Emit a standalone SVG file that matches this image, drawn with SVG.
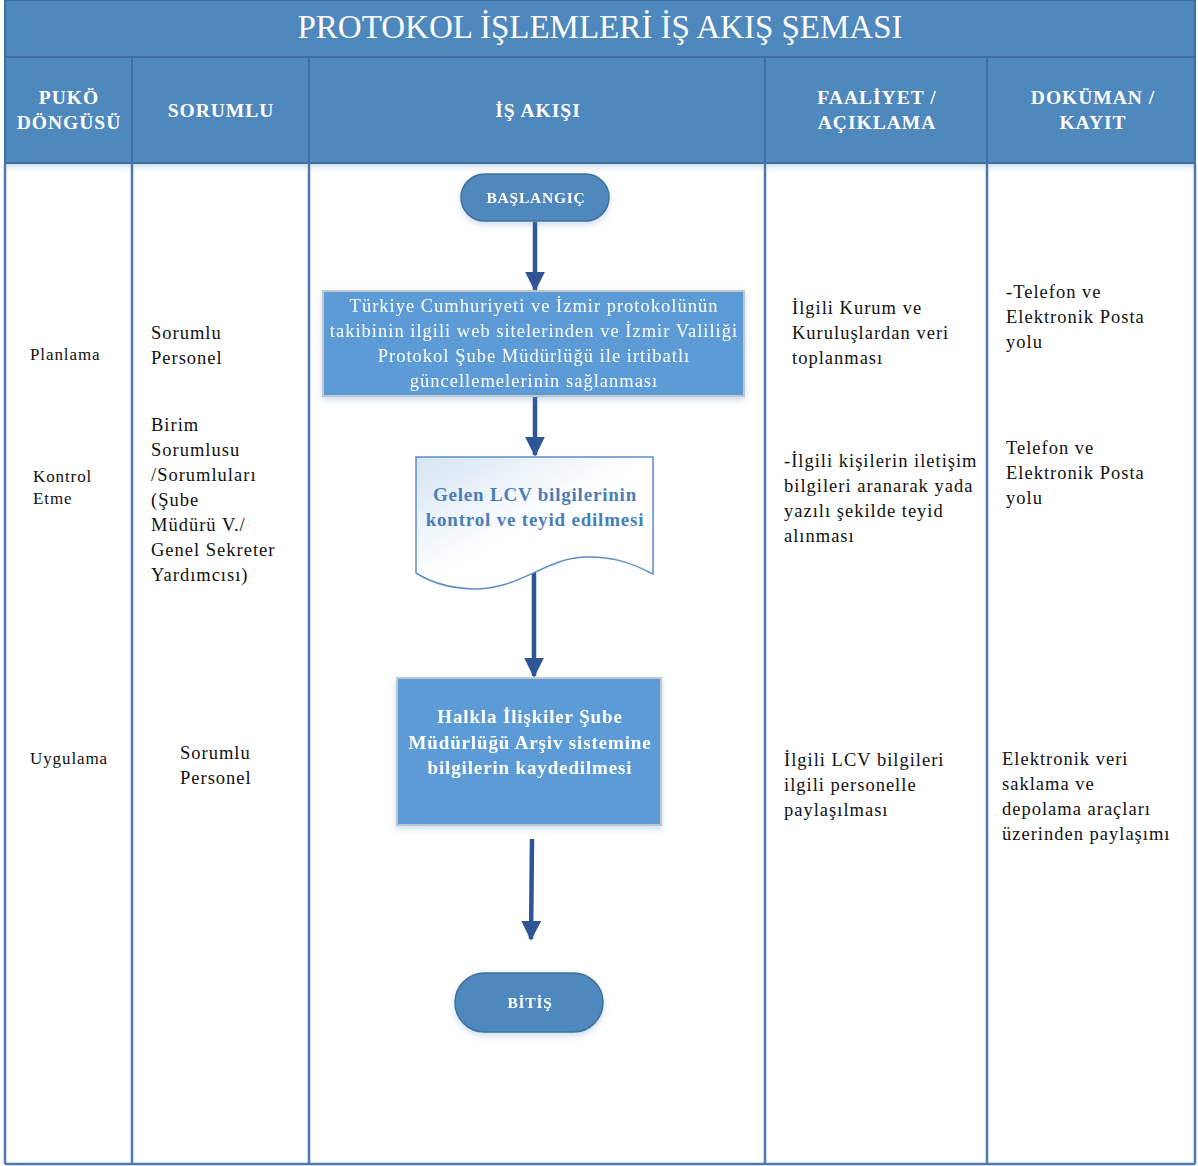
<svg xmlns="http://www.w3.org/2000/svg" width="1198" height="1166" viewBox="0 0 1198 1166">
<defs>
<style>
.hdr{fill:#4f88bc;stroke:#3f6f9f;stroke-width:2}
.col{stroke:#4a7ab0;stroke-width:2.5;fill:none}
.ht{font-family:"Liberation Serif","Times New Roman",serif;font-weight:bold;font-size:19.5px;letter-spacing:1px;fill:#fff;text-anchor:middle}
.tt{font-family:"Liberation Serif","Times New Roman",serif;font-size:33px;fill:#fff;text-anchor:middle}
.bt{font-family:"Liberation Serif","Times New Roman",serif;font-size:18.5px;letter-spacing:1px;fill:#111}
.st{font-family:"Liberation Serif","Times New Roman",serif;font-size:17px;letter-spacing:0.9px;fill:#111}
.term{fill:#4f88bc;stroke:#41719c;stroke-width:1.5}
.termt{font-family:"Liberation Serif","Times New Roman",serif;font-weight:bold;font-size:15.5px;letter-spacing:0.75px;fill:#fff;text-anchor:middle}
.proc{fill:#5b9bd5;stroke:#c0c6cc;stroke-width:2}
.pt{font-family:"Liberation Serif","Times New Roman",serif;font-size:18.5px;letter-spacing:1px;fill:#fff;text-anchor:middle}
.pbt{font-family:"Liberation Serif","Times New Roman",serif;font-weight:bold;font-size:19px;letter-spacing:0.85px;fill:#fff;text-anchor:middle}
.dt{font-family:"Liberation Serif","Times New Roman",serif;font-weight:bold;font-size:19px;letter-spacing:0.8px;fill:#4a7ebb;text-anchor:middle}
.conn{stroke:#2f5597;stroke-width:4.5;fill:none}
</style>
<linearGradient id="docg" x1="0" y1="0" x2="1" y2="1">
<stop offset="0" stop-color="#d6e4f3"/>
<stop offset="0.5" stop-color="#ffffff"/>
<stop offset="1" stop-color="#ffffff"/>
</linearGradient>
<linearGradient id="sh" x1="0" y1="0" x2="0" y2="1">
<stop offset="0" stop-color="#c9d9ea"/>
<stop offset="1" stop-color="#ffffff" stop-opacity="0"/>
</linearGradient>
<filter id="ds" x="-10%" y="-10%" width="120%" height="130%">
<feDropShadow dx="0" dy="3" stdDeviation="3" flood-color="#5b8fc7" flood-opacity="0.3"/>
</filter>
<marker id="ah" markerWidth="4.4" markerHeight="4.4" refX="4" refY="2.2" orient="auto" markerUnits="strokeWidth">
<path d="M0,0 L4.4,2.2 L0,4.4 z" fill="#2f5597"/>
</marker>
</defs>

<rect x="0" y="0" width="1198" height="1166" fill="#ffffff"/>

<g id="table">
<rect x="5" y="163" width="1190" height="12" fill="url(#sh)"/>
<rect class="hdr" x="5" y="0" width="1190" height="57"/>
<rect class="hdr" x="5" y="57" width="127" height="106"/>
<rect class="hdr" x="132" y="57" width="177" height="106"/>
<rect class="hdr" x="309" y="57" width="456" height="106"/>
<rect class="hdr" x="765" y="57" width="222" height="106"/>
<rect class="hdr" x="987" y="57" width="208" height="106"/>
<line class="col" x1="5" y1="163" x2="5" y2="1164"/>
<line class="col" x1="132" y1="163" x2="132" y2="1164"/>
<line class="col" x1="309" y1="163" x2="309" y2="1164"/>
<line class="col" x1="765" y1="163" x2="765" y2="1164"/>
<line class="col" x1="987" y1="163" x2="987" y2="1164"/>
<line class="col" x1="1195" y1="163" x2="1195" y2="1164"/>
<line class="col" x1="5" y1="1164" x2="1195" y2="1164"/>
<text class="tt" x="600" y="38">PROTOKOL İŞLEMLERİ İŞ AKIŞ ŞEMASI</text>
<text class="ht" x="69" y="104">PUKÖ</text>
<text class="ht" x="69" y="129">DÖNGÜSÜ</text>
<text class="ht" x="221" y="117">SORUMLU</text>
<text class="ht" x="538" y="117">İŞ AKIŞI</text>
<text class="ht" x="877" y="104">FAALİYET /</text>
<text class="ht" x="1093" y="104">DOKÜMAN /</text>
<text class="ht" x="877" y="129">AÇIKLAMA</text>
<text class="ht" x="1093" y="129">KAYIT</text>
</g>

<g id="puko">
<text class="st" x="30" y="360">Planlama</text>
<text class="st" x="33" y="482">Kontrol</text>
<text class="st" x="33" y="504">Etme</text>
<text class="st" x="30" y="764">Uygulama</text>
</g>

<g id="sorumlu">
<text class="bt" x="151" y="339">Sorumlu</text>
<text class="bt" x="151" y="364">Personel</text>
<text class="bt" x="151" y="431">Birim</text>
<text class="bt" x="151" y="456">Sorumlusu</text>
<text class="bt" x="151" y="481">/Sorumluları</text>
<text class="bt" x="151" y="506">(Şube</text>
<text class="bt" x="151" y="531">Müdürü V./</text>
<text class="bt" x="151" y="556">Genel Sekreter</text>
<text class="bt" x="151" y="581">Yardımcısı)</text>
<text class="bt" x="180" y="759">Sorumlu</text>
<text class="bt" x="180" y="784">Personel</text>
</g>

<g id="faaliyet">
<text class="bt" x="792" y="314">İlgili Kurum ve</text>
<text class="bt" x="792" y="339">Kuruluşlardan veri</text>
<text class="bt" x="792" y="364">toplanması</text>
<text class="bt" x="784" y="467">-İlgili kişilerin iletişim</text>
<text class="bt" x="784" y="492">bilgileri aranarak yada</text>
<text class="bt" x="784" y="517">yazılı şekilde teyid</text>
<text class="bt" x="784" y="542">alınması</text>
<text class="bt" x="784" y="766">İlgili LCV bilgileri</text>
<text class="bt" x="784" y="791">ilgili personelle</text>
<text class="bt" x="784" y="816">paylaşılması</text>
</g>

<g id="dokuman">
<text class="bt" x="1006" y="298">-Telefon ve</text>
<text class="bt" x="1006" y="323">Elektronik Posta</text>
<text class="bt" x="1006" y="348">yolu</text>
<text class="bt" x="1006" y="454">Telefon ve</text>
<text class="bt" x="1006" y="479">Elektronik Posta</text>
<text class="bt" x="1006" y="504">yolu</text>
<text class="bt" x="1002" y="765">Elektronik veri</text>
<text class="bt" x="1002" y="790">saklama ve</text>
<text class="bt" x="1002" y="815">depolama araçları</text>
<text class="bt" x="1002" y="840">üzerinden paylaşımı</text>
</g>

<g id="connectors">
<line class="conn" x1="535" y1="222" x2="535" y2="290" marker-end="url(#ah)"/>
<line class="conn" x1="535" y1="397" x2="535" y2="455" marker-end="url(#ah)"/>
<line class="conn" x1="534" y1="572" x2="534" y2="676" marker-end="url(#ah)"/>
<line class="conn" x1="532" y1="839" x2="531" y2="939" marker-end="url(#ah)"/>
</g>

<g id="n-start" filter="url(#ds)">
<rect class="term" x="461" y="174" width="148" height="47" rx="23.5"/>
<text class="termt" x="536" y="203">BAŞLANGIÇ</text>
</g>

<g id="n-takip" filter="url(#ds)">
<rect class="proc" x="323" y="291" width="421" height="105"/>
<text class="pt" x="534" y="312">Türkiye Cumhuriyeti ve İzmir protokolünün</text>
<text class="pt" x="534" y="337">takibinin ilgili web sitelerinden ve İzmir Valiliği</text>
<text class="pt" x="534" y="362">Protokol Şube Müdürlüğü ile irtibatlı</text>
<text class="pt" x="534" y="387">güncellemelerinin sağlanması</text>
</g>

<g id="n-kontrol">
<path d="M416,457 L653,457 L653,574 C630,562 610,556 585,557 C545,558 520,590 472,589 C448,588 430,582 416,573 Z" fill="url(#docg)" stroke="#5b8fc7" stroke-width="1.5"/>
<text class="dt" x="535" y="501">Gelen LCV bilgilerinin</text>
<text class="dt" x="535" y="526">kontrol ve teyid edilmesi</text>
</g>

<g id="n-arsiv" filter="url(#ds)">
<rect class="proc" x="397" y="678" width="264" height="147"/>
<text class="pbt" x="530" y="723">Halkla İlişkiler Şube</text>
<text class="pbt" x="530" y="749">Müdürlüğü Arşiv sistemine</text>
<text class="pbt" x="530" y="774">bilgilerin kaydedilmesi</text>
</g>

<g id="n-bitis" filter="url(#ds)">
<rect class="term" x="455" y="973" width="148" height="59" rx="29.5"/>
<text class="termt" x="530" y="1008">BİTİŞ</text>
</g>
</svg>
